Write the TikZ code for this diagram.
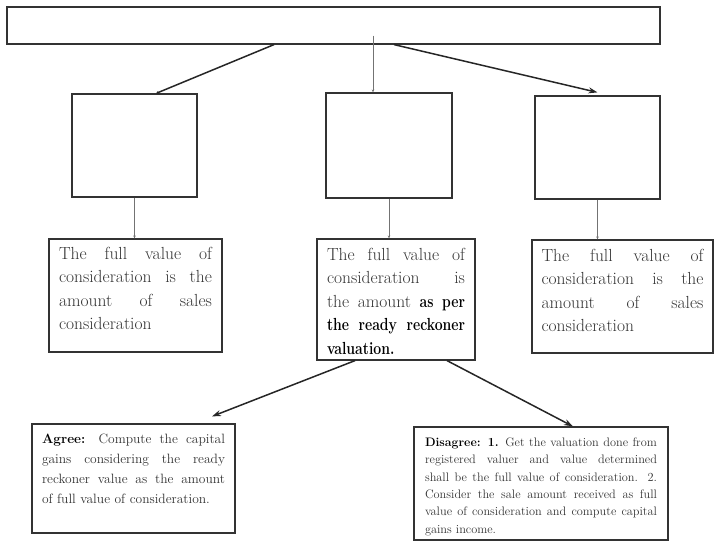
\documentclass[tikz,border=0pt]{standalone}
\usepackage{graphicx}
\usetikzlibrary{arrows.meta}
\newlength{\jw}
\newcommand{\jl}[1]{\makebox[\jw][s]{\spaceskip=0pt\xspaceskip=0pt #1}}
\newcommand{\bn}[1]{\scalebox{0.8}[1]{\bfseries\color{black}#1}}

\begin{document}
\begin{tikzpicture}[x=1pt, y=-1pt,
  box/.style={draw=black!80, line width=1.2pt, rectangle, inner sep=0pt},
  txt/.style={box, align=left, text=black!80, inner xsep=10pt},
  tw/.style={text width=#1, execute at begin node={\setlength{\jw}{#1}}},
  big/.style={font=\fontsize{17.5}{23.5}\selectfont},
  thk/.style={draw=black!85, line width=1.5pt, -{Stealth[length=9pt,width=6pt]}},
  thn/.style={draw=black!55, line width=0.7pt, -{Stealth[length=3pt,width=2.5pt]}}]
\useasboundingbox (0,0) rectangle (720,558);
% Top box
\node[box, minimum width=653pt, minimum height=37pt] (top) at (333.5,25.5) {};
% Empty boxes
\node[box, minimum width=125pt, minimum height=103pt] (b1) at (134.5,145.5) {};
\node[box, minimum width=126pt, minimum height=105pt] (b2) at (389,145.5) {};
\node[box, minimum width=125pt, minimum height=103pt] (b3) at (597.5,147.5) {};
% Value boxes
\node[txt, big, tw=153pt, text depth=84.5pt, minimum height=113pt] (t1) at (135.5,295.5)
  {\jl{The full value of}\\ \jl{consideration is the}\\ \jl{amount of sales}\\ consideration};
\node[txt, big, tw=138pt, text depth=90.5pt, minimum height=121pt] (t2) at (396,299.5)
  {\jl{The full value of}\\ \jl{consideration is}\\ \jl{the amount \bn{as} \bn{per}}\\
   \jl{\bn{the} \bn{ready} \bn{reckoner}}\\ \bn{valuation.}};
\node[txt, big, tw=162pt, inner xsep=9.5pt, text depth=82.5pt, minimum height=113pt] (t3) at (622.5,296.5)
  {\jl{The full value of}\\ \jl{consideration is the}\\ \jl{amount of sales}\\ consideration};
% Agree / disagree
\node[txt, font=\fontsize{13.5}{20}\selectfont, tw=183pt, text depth=79pt, minimum height=109pt] (agree) at (133.5,478.5)
  {\jl{\textbf{\color{black}Agree:} Compute the capital}\\ \jl{gains considering the ready}\\
   \jl{reckoner value as the amount}\\ of full value of consideration.};
\node[txt, font=\fontsize{12.3}{17.4}\selectfont, tw=232pt, inner xsep=11pt, text depth=83pt, minimum height=113pt] (disagree) at (541,483.5)
  {\jl{\textbf{\color{black}Disagree: 1.} Get the valuation done from}\\ \jl{registered valuer and value determined}\\
   \jl{shall be the full value of consideration. 2.}\\ \jl{Consider the sale amount received as full}\\
   \jl{value of consideration and compute capital}\\ gains income.};
% Arrows
\draw[thk, -{Stealth[length=3pt,width=3pt]}] ([xshift=-59.5pt]top.south) -- ([xshift=21.5pt]b1.north);
\draw[thn] ([xshift=39.5pt,yshift=9pt]top.south) -- ([xshift=-16pt]b2.north);
\draw[thk] ([xshift=60.5pt]top.south) -- ([yshift=3pt]b3.north);
\draw[thn] (b1.south) -- (b1.south |- t1.north);
\draw[thn] (b2.south) -- (b2.south |- t2.north);
\draw[thn] (b3.south) -- (b3.south |- t3.north);
\draw[thk] ([xshift=-41pt]t2.south) -- ([xshift=78.5pt,yshift=7pt]agree.north);
\draw[thk] ([xshift=51pt]t2.south) -- ([xshift=32pt]disagree.north);
\end{tikzpicture}
\end{document}
